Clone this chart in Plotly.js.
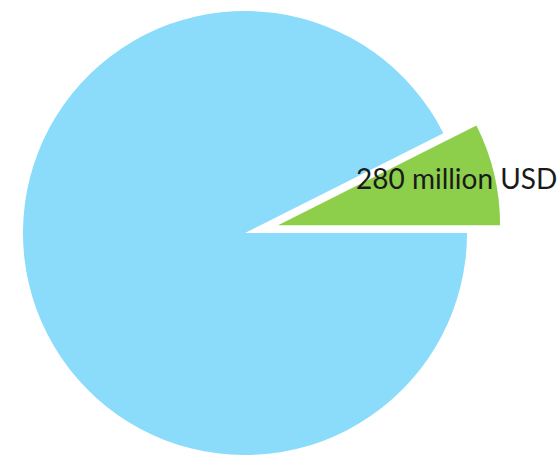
<!DOCTYPE html>
<html>
<head>
<meta charset="utf-8">
<script src="https://cdn.plot.ly/plotly-3.0.1.min.js"></script>
<style>
  html, body { margin: 0; padding: 0; background: #ffffff; overflow: hidden; width: 557px; height: 460px; }
  #chart { position: absolute; left: -11px; top: -23px; }
</style>
</head>
<body>
<div id="chart"></div>
<script>
// Data
const categories = ["Segment A", "Segment B"];
const values = [280, 3500];
const labels = ["280 million USD", ""];
const colors = ["#8DCF4B", "#8ADCFA"];
const pulls = [0.153, 0];

// first slice's counterclockwise edge sits at 3 o'clock
const total = values.reduce((a, b) => a + b, 0);
const startRotation = 90 - 360 * values[0] / total;

const trace = {
  type: "pie",
  labels: categories,
  values: values,
  sort: false,
  direction: "clockwise",
  rotation: startRotation,
  pull: pulls,
  marker: { colors: colors, line: { color: "#ffffff", width: 0 } },
  textinfo: "none",
  hoverinfo: "none",
  showlegend: false
};

const layout = {
  width: 620,
  height: 540,
  margin: { l: 0, r: 108, t: 0, b: 28, pad: 0 },
  paper_bgcolor: "#ffffff",
  plot_bgcolor: "#ffffff",
  showlegend: false,
  annotations: [{
    text: labels[0],
    xref: "paper", yref: "paper",
    x: 0.914, y: 0.607,
    xanchor: "center", yanchor: "middle",
    showarrow: false,
    font: { family: "Lato, 'Open Sans', sans-serif", size: 28, color: "#1a1a1a" }
  }]
};

Plotly.newPlot("chart", [trace], layout, { displayModeBar: false, staticPlot: true });
</script>
</body>
</html>
